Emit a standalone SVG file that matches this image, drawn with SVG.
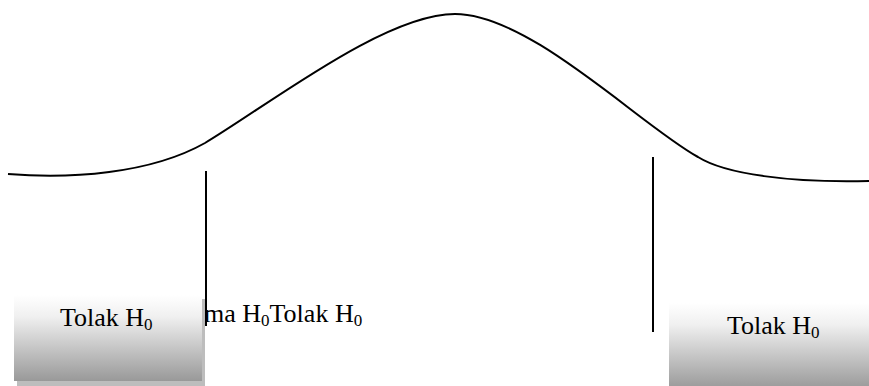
<svg xmlns="http://www.w3.org/2000/svg" width="869" height="386" viewBox="0 0 869 386">
<style>
.ln{fill:none;stroke:#000;stroke-width:2}
.lbl{font-family:"Liberation Serif","Times New Roman",serif;font-size:26px;fill:#000}
.sub{font-size:17px}
.shadow{fill:#bdbdbd}
.box{fill:url(#g)}
</style>
<defs>
<linearGradient id="g" x1="0" y1="0" x2="0" y2="1">
<stop offset="0" stop-color="#ffffff"/>
<stop offset="0.25" stop-color="#f0f0f0"/>
<stop offset="1" stop-color="#999999"/>
</linearGradient>
</defs>
<g id="curve">
<path class="ln" d="M 8,174 C 70,179 150,174 205,143 C 270,104 385,14 455,14 C 530,14 640,125 698,157 C 725,174 790,183 869,181"/>
</g>
<g id="middle-label">
<text class="lbl" x="204" y="322">ma H<tspan class="sub" dy="4">0</tspan><tspan dy="-4">Tolak H</tspan><tspan class="sub" dy="4">0</tspan></text>
</g>
<g id="left-region">
<rect class="shadow" x="17" y="299" width="188" height="87"/>
<rect class="box" x="14" y="295" width="188" height="86"/>
<text class="lbl" x="60" y="326">Tolak H<tspan class="sub" dy="4">0</tspan></text>
</g>
<g id="right-region">
<rect class="box" x="669" y="303" width="204" height="86"/>
<text class="lbl" x="727" y="334">Tolak H<tspan class="sub" dy="4">0</tspan></text>
</g>
<g id="connectors">
<line class="ln" x1="206" y1="171" x2="206" y2="326"/>
<line class="ln" x1="653" y1="157" x2="653" y2="332"/>
</g>
</svg>
